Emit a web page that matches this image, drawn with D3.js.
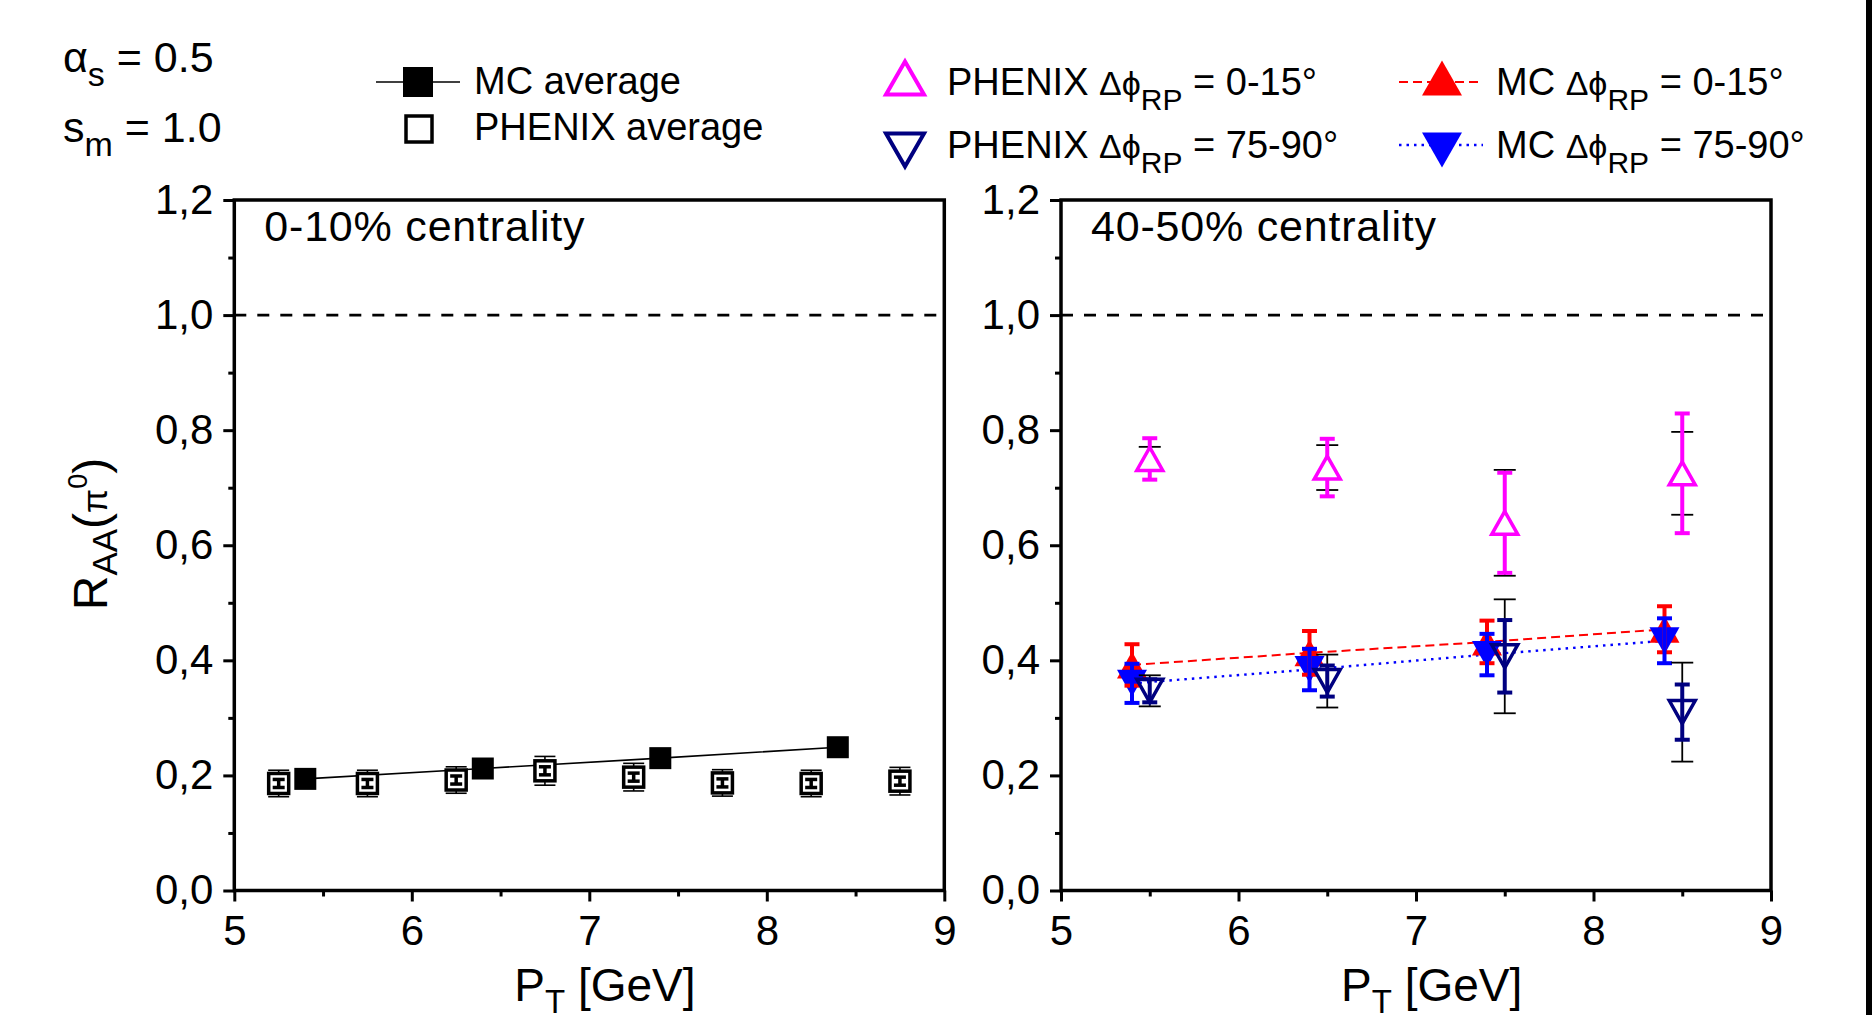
<!DOCTYPE html>
<html>
<head>
<meta charset="utf-8">
<script src="https://cdn.jsdelivr.net/npm/d3@7"></script>
<style>
  body { margin: 0; background: #fff; }
  svg { display: block; font-family: "Liberation Sans", Arial, sans-serif; }
</style>
</head>
<body>
<div id="chart"></div>
<script>
// ---- data ----
const xMajor = [5, 6, 7, 8, 9];
const xMinor = [5.5, 6.5, 7.5, 8.5];
const yMajor = [0, 0.2, 0.4, 0.6, 0.8, 1.0, 1.2];
const yMinor = [0.1, 0.3, 0.5, 0.7, 0.9, 1.1];

// 0-10% centrality
const ptMC = [5.4, 6.4, 7.4, 8.4];
const mcAvg = [0.194, 0.212, 0.230, 0.249];
const mcAvgErr = [0.004, 0.004, 0.004, 0.004];
const ptPhenixAvg = [5.25, 5.75, 6.25, 6.75, 7.25, 7.75, 8.25, 8.75];
const phenixAvg = [0.186, 0.186, 0.192, 0.208, 0.197, 0.187, 0.186, 0.190];
const phenixAvgStat = [0.007, 0.007, 0.007, 0.007, 0.007, 0.007, 0.007, 0.007];
const phenixAvgSys = [0.023, 0.023, 0.023, 0.025, 0.024, 0.023, 0.023, 0.024];

// 40-50% centrality
const ptPhenix = [5.5, 6.5, 7.5, 8.5];
const mcIn = [0.392, 0.413, 0.432, 0.454];
const mcInErr = [0.036, 0.038, 0.037, 0.040];
const mcOut = [0.360, 0.384, 0.410, 0.434];
const mcOutErr = [0.034, 0.036, 0.036, 0.039];
const phenixIn = [0.750, 0.735, 0.639, 0.725];
const phenixInStat = [0.036, 0.050, 0.087, 0.104];
const phenixInSys = [0.021, 0.039, 0.092, 0.072];
const phenixOut = [0.347, 0.364, 0.407, 0.310];
const phenixOutStat = [0.020, 0.027, 0.063, 0.048];
const phenixOutSys = [0.027, 0.046, 0.099, 0.086];

const W = 1872, H = 1015;
const panelW = 710;
const plotTop = 200, plotBottom = 890.5;

const svg = d3.select("#chart").append("svg")
  .attr("width", W)
  .attr("height", H);

const fmt = d => d3.format(".1f")(d).replace(".", ",");

function triPath(w, h, down) {
  const s = down ? -1 : 1;
  return `M0,${-s * h / 2}L${w / 2},${s * h / 2}L${-w / 2},${s * h / 2}Z`;
}

function errorBars(g, x, y, xs, vals, errs, color, sw, capW) {
  const rows = xs.map((p, i) => ({ p, v: vals[i], e: errs[i] }));
  const eg = g.append("g").attr("stroke", color).attr("stroke-width", sw);
  eg.selectAll(".bar").data(rows).join("line")
    .attr("x1", d => x(d.p)).attr("x2", d => x(d.p))
    .attr("y1", d => y(d.v + d.e)).attr("y2", d => y(d.v - d.e));
  eg.selectAll(".capTop").data(rows).join("line")
    .attr("x1", d => x(d.p) - capW / 2).attr("x2", d => x(d.p) + capW / 2)
    .attr("y1", d => y(d.v + d.e)).attr("y2", d => y(d.v + d.e));
  eg.selectAll(".capBot").data(rows).join("line")
    .attr("x1", d => x(d.p) - capW / 2).attr("x2", d => x(d.p) + capW / 2)
    .attr("y1", d => y(d.v - d.e)).attr("y2", d => y(d.v - d.e));
}

function makePanel(left, title) {
  const x = d3.scaleLinear().domain([5, 9]).range([left, left + panelW]);
  const y = d3.scaleLinear().domain([0, 1.2]).range([plotBottom, plotTop]);
  const g = svg.append("g");

  // reference line at 1
  g.append("line")
    .attr("x1", x(5)).attr("x2", x(9))
    .attr("y1", y(1)).attr("y2", y(1))
    .attr("stroke", "#000").attr("stroke-width", 2.6)
    .attr("stroke-dasharray", "12,11");

  // x axis
  const xa = g.append("g").attr("transform", `translate(0,${y(0)})`)
    .call(d3.axisBottom(x).tickValues(xMajor).tickSize(11).tickSizeOuter(0).tickFormat(d3.format("d")));
  xa.selectAll("text").attr("y", 54.5).attr("dy", null);
  g.append("g").attr("transform", `translate(0,${y(0)})`)
    .call(d3.axisBottom(x).tickValues(xMinor).tickSize(6).tickSizeOuter(0).tickFormat(""));

  // y axis
  g.append("g").attr("transform", `translate(${x(5)},0)`)
    .call(d3.axisLeft(y).tickValues(yMajor).tickSize(11).tickPadding(10).tickSizeOuter(0).tickFormat(fmt));
  g.append("g").attr("transform", `translate(${x(5)},0)`)
    .call(d3.axisLeft(y).tickValues(yMinor).tickSize(6).tickSizeOuter(0).tickFormat(""));

  g.selectAll(".domain").remove();
  g.selectAll(".tick line").attr("stroke", "#000").attr("stroke-width", 3);
  g.selectAll(".tick text")
    .attr("fill", "#000")
    .style("font-family", "'Liberation Sans', Arial, sans-serif")
    .style("font-size", "42px");

  // frame
  g.append("rect")
    .attr("x", x(5)).attr("y", y(1.2))
    .attr("width", x(9) - x(5)).attr("height", y(0) - y(1.2))
    .attr("fill", "none").attr("stroke", "#000").attr("stroke-width", 3.5);

  // panel label
  g.append("text")
    .attr("x", x(5) + 30).attr("y", 241)
    .attr("font-size", 43).attr("letter-spacing", 0.8)
    .text(title);

  // x title
  const xt = g.append("text")
    .attr("x", x(5) + 280).attr("y", 1001)
    .attr("font-size", 46);
  xt.append("tspan").text("P");
  xt.append("tspan").attr("font-size", 33).attr("dy", 12).text("T");
  xt.append("tspan").attr("dy", -12).text(" [GeV]");

  return { g, x, y };
}

// ---- left panel ----
const L = makePanel(234.3, "0-10% centrality");
{
  const { g, x, y } = L;
  g.append("path")
    .datum(ptMC.map((p, i) => [p, mcAvg[i]]))
    .attr("fill", "none").attr("stroke", "#000").attr("stroke-width", 1.6)
    .attr("d", d3.line().x(d => x(d[0])).y(d => y(d[1])));

  errorBars(g, x, y, ptPhenixAvg, phenixAvg, phenixAvgSys, "#000", 1.6, 21);
  g.selectAll(".oq").data(ptPhenixAvg).join("rect")
    .attr("x", (d) => x(d) - 10).attr("y", (d, i) => y(phenixAvg[i]) - 10)
    .attr("width", 20).attr("height", 20)
    .attr("fill", "#fff").attr("stroke", "#000").attr("stroke-width", 3.5);
  errorBars(g, x, y, ptPhenixAvg, phenixAvg, phenixAvgStat, "#000", 3.5, 12);

  errorBars(g, x, y, ptMC, mcAvg, mcAvgErr, "#000", 1.6, 8);
  g.selectAll(".fq").data(ptMC).join("rect")
    .attr("x", d => x(d) - 11).attr("y", (d, i) => y(mcAvg[i]) - 11)
    .attr("width", 22).attr("height", 22)
    .attr("fill", "#000");
}

// ---- right panel ----
const R = makePanel(1061, "40-50% centrality");
{
  const { g, x, y } = R;
  const line = d3.line().x(d => x(d[0])).y(d => y(d[1]));
  g.append("path")
    .datum(ptMC.map((p, i) => [p, mcIn[i]]))
    .attr("fill", "none").attr("stroke", "#ff0000").attr("stroke-width", 2)
    .attr("stroke-dasharray", "9,5").attr("d", line);
  g.append("path")
    .datum(ptMC.map((p, i) => [p, mcOut[i]]))
    .attr("fill", "none").attr("stroke", "#0000ff").attr("stroke-width", 2.4)
    .attr("stroke-dasharray", "2.5,5").attr("d", line);

  // MC symbols
  g.selectAll(".mcIn").data(ptMC).join("path")
    .attr("transform", (d, i) => `translate(${x(d)},${y(mcIn[i])})`)
    .attr("d", triPath(30, 27, false)).attr("fill", "#ff0000");
  g.selectAll(".mcOut").data(ptMC).join("path")
    .attr("transform", (d, i) => `translate(${x(d)},${y(mcOut[i])})`)
    .attr("d", triPath(30, 27, true)).attr("fill", "#0000ff");
  errorBars(g, x, y, ptMC, mcIn, mcInErr, "#ff0000", 4, 15);
  errorBars(g, x, y, ptMC, mcOut, mcOutErr, "#0000ff", 4, 15);

  // PHENIX 0-15
  errorBars(g, x, y, ptPhenix, phenixIn, phenixInSys, "#000", 1.8, 22);
  errorBars(g, x, y, ptPhenix, phenixIn, phenixInStat, "#ff00ff", 4, 15);
  g.selectAll(".phIn").data(ptPhenix).join("path")
    .attr("transform", (d, i) => `translate(${x(d)},${y(phenixIn[i])})`)
    .attr("d", triPath(26, 23, false))
    .attr("fill", "#fff").attr("stroke", "#ff00ff").attr("stroke-width", 3.5);

  // PHENIX 75-90
  errorBars(g, x, y, ptPhenix, phenixOut, phenixOutSys, "#000", 1.8, 22);
  errorBars(g, x, y, ptPhenix, phenixOut, phenixOutStat, "#000080", 4, 15);
  g.selectAll(".phOut").data(ptPhenix).join("path")
    .attr("transform", (d, i) => `translate(${x(d)},${y(phenixOut[i])})`)
    .attr("d", triPath(26, 23, true))
    .attr("fill", "none").attr("stroke", "#000080").attr("stroke-width", 3.5);
}

// ---- y title (left only) ----
{
  const t = svg.append("text")
    .attr("transform", "translate(107,534) rotate(-90)")
    .attr("text-anchor", "middle")
    .attr("font-size", 48);
  t.append("tspan").text("R");
  t.append("tspan").attr("font-size", 35).attr("dy", 10).text("AA");
  t.append("tspan").attr("dy", -10).text("(");
  t.append("tspan").attr("font-size", 35).text("π");
  t.append("tspan").attr("font-size", 27).attr("dy", -20).text("0");
  t.append("tspan").attr("dy", 20).text(")");
}

// ---- parameter labels ----
{
  const a = svg.append("text").attr("x", 63).attr("y", 72).attr("font-size", 43);
  a.append("tspan").text("α");
  a.append("tspan").attr("font-size", 34).attr("dy", 14).text("s");
  a.append("tspan").attr("dy", -14).text(" = 0.5");
  const s = svg.append("text").attr("x", 63).attr("y", 142).attr("font-size", 43);
  s.append("tspan").text("s");
  s.append("tspan").attr("font-size", 34).attr("dy", 14).text("m");
  s.append("tspan").attr("dy", -14).text(" = 1.0");
}

// ---- legend ----
const lg = svg.append("g").attr("font-size", 38);
lg.append("line").attr("x1", 376).attr("x2", 460).attr("y1", 82).attr("y2", 82)
  .attr("stroke", "#000").attr("stroke-width", 1.6);
lg.append("rect").attr("x", 403).attr("y", 67).attr("width", 30).attr("height", 30).attr("fill", "#000");
lg.append("text").attr("x", 474).attr("y", 94).text("MC average");
lg.append("rect").attr("x", 406).attr("y", 116).attr("width", 26).attr("height", 26)
  .attr("fill", "#fff").attr("stroke", "#000").attr("stroke-width", 3.5);
lg.append("text").attr("x", 474).attr("y", 140).text("PHENIX average");

function legendLabel(x0, yb, prefix, range) {
  const t = lg.append("text").attr("x", x0).attr("y", yb);
  t.append("tspan").text(prefix + " ");
  t.append("tspan").attr("font-size", 34).text("Δϕ");
  t.append("tspan").attr("font-size", 30).attr("dy", 15).text("RP");
  t.append("tspan").attr("dy", -15).text(" = " + range);
}

lg.append("path").attr("transform", "translate(905,78)").attr("d", triPath(38, 33, false))
  .attr("fill", "none").attr("stroke", "#ff00ff").attr("stroke-width", 4);
legendLabel(947, 95, "PHENIX", "0-15°");
lg.append("path").attr("transform", "translate(905,150)").attr("d", triPath(38, 33, true))
  .attr("fill", "none").attr("stroke", "#000080").attr("stroke-width", 4);
legendLabel(947, 158, "PHENIX", "75-90°");

lg.append("line").attr("x1", 1399).attr("x2", 1483).attr("y1", 82).attr("y2", 82)
  .attr("stroke", "#ff0000").attr("stroke-width", 2).attr("stroke-dasharray", "9,5");
lg.append("path").attr("transform", "translate(1442,78)").attr("d", triPath(40, 35, false)).attr("fill", "#ff0000");
legendLabel(1496, 95, "MC", "0-15°");
lg.append("line").attr("x1", 1399).attr("x2", 1483).attr("y1", 145).attr("y2", 145)
  .attr("stroke", "#0000ff").attr("stroke-width", 2.4).attr("stroke-dasharray", "2.5,5");
lg.append("path").attr("transform", "translate(1442,150)").attr("d", triPath(40, 35, true)).attr("fill", "#0000ff");
legendLabel(1496, 158, "MC", "75-90°");

// right edge bar
svg.append("rect").attr("x", 1866).attr("y", 0).attr("width", 6).attr("height", H).attr("fill", "#000");
</script>
</body>
</html>
